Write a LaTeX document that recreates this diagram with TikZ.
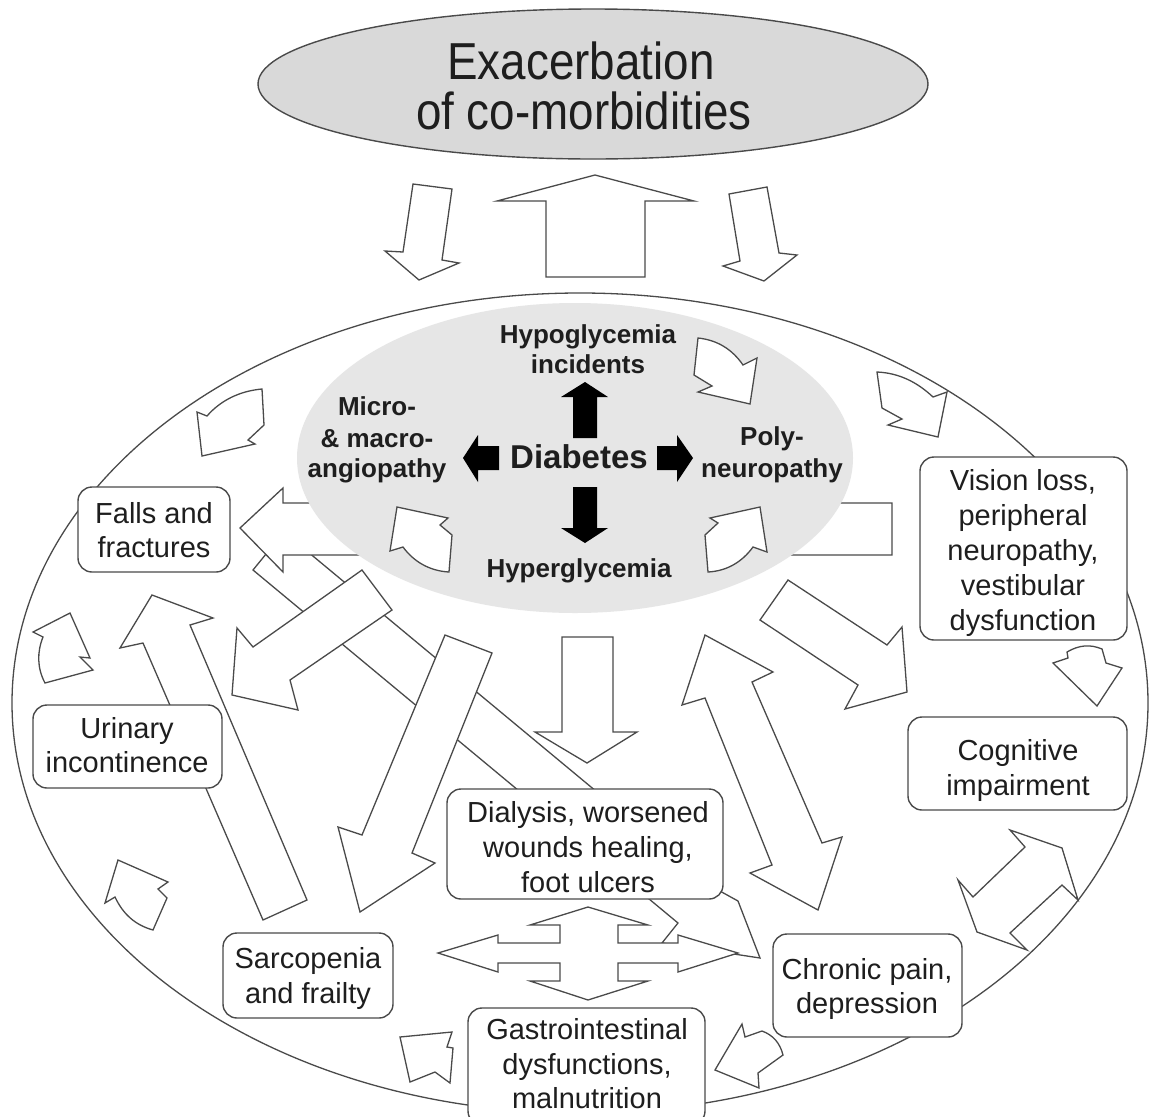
\documentclass[tikz,border=0pt]{standalone}
\usepackage{fontspec}
\setmainfont{Liberation Sans}
\newfontfamily\titlefont[FakeStretch=0.88]{Liberation Sans}
\usetikzlibrary{shapes.geometric}
\definecolor{linec}{HTML}{4A4A4A}
\definecolor{textc}{HTML}{1E1E1E}
\definecolor{titlefill}{HTML}{D9D9D9}
\definecolor{corefill}{HTML}{E6E6E6}
\tikzset{
  blk/.style={draw=linec, line width=1.3pt, fill=white, line join=miter},
  solidarrow/.style={fill=black, draw=none},
  boxnode/.style={draw=linec, line width=1.4pt, rounded corners=14pt, fill=white, inner sep=0pt, outer sep=0pt},
  txt/.style={text=textc, font=\fontsize{29}{34}\selectfont, anchor=base, inner sep=0pt},
  btxt/.style={text=textc, font=\bfseries\fontsize{26}{30}\selectfont, anchor=base, inner sep=0pt},
  ttxt/.style={text=textc, font=\titlefont\fontsize{52}{58}\selectfont, anchor=base, inner sep=0pt},
}
\begin{document}
\begin{tikzpicture}[x=1pt, y=-1pt]
\useasboundingbox (0,0) rectangle (1152,1117);
\clip (0,0) rectangle (1152,1117);
\fill[white] (0,0) rectangle (1152,1117);

% outer ellipse
\node[ellipse, draw=linec, line width=1.3pt, minimum width=1136pt, minimum height=820pt, inner sep=0pt, outer sep=0pt] (outer) at (580,703) {};

% title ellipse
\node[ellipse, draw=linec, line width=1.4pt, fill=titlefill, minimum width=670pt, minimum height=150pt, inner sep=0pt] (title) at (593,84) {};
\node[ttxt] (t1) at (581,79) {Exacerbation};
\node[ttxt] (t2) at (584,129) {of co-morbidities};

% top arrows
\draw[blk] (413,184) -- (452,189) -- (442,260) -- (459,263) -- (419,280) -- (385,251) -- (403,252) -- cycle;
\draw[blk] (595,175) -- (694,201) -- (645,201) -- (645,277) -- (546,277) -- (546,201) -- (497,201) -- cycle;
\draw[blk] (729,194) -- (767,187) -- (779,253) -- (797,255) -- (764,281) -- (723,266) -- (740,261) -- cycle;

% long arrows (bottom layers)
\draw[blk] (253,570) -- (284,532) -- (709,885) -- (738,901) -- (760,958) -- (662,943) -- (678,923) -- cycle;
\draw[blk] (330,503) -- (283,503) -- (283,488) -- (240,528) -- (283,572) -- (283,555) -- (370,555) -- cycle;
\draw[blk] (820,503) -- (892,503) -- (892,555) -- (780,555) -- cycle;
\draw[blk] (362,570) -- (392,610) -- (290,680) -- (298,710) -- (232,695) -- (237,628) -- (253,647) -- cycle;
\draw[blk] (445,635) -- (492,653) -- (412,853) -- (435,863) -- (360,912) -- (338,827) -- (362,835) -- cycle;
\draw[blk] (263,920) -- (307,900) -- (190,625) -- (213,618) -- (152,595) -- (120,648) -- (143,643) -- cycle;
\draw[blk] (562,637) -- (613,637) -- (613,732) -- (637,732) -- (587,763) -- (535,732) -- (562,732) -- cycle;
\draw[blk] (705,635) -- (773,672) -- (752,682) -- (822,843) -- (842,837) -- (818,910) -- (750,873) -- (772,865) -- (705,698) -- (682,705) -- cycle;
\draw[blk] (760,620) -- (788,580) -- (887,645) -- (902,627) -- (907,692) -- (845,709) -- (858,685) -- cycle;
\draw[blk] (1010,830) -- (1062,848) -- (1078,900) -- (1062,885) -- (1010,933) -- (1027,950) -- (977,932) -- (958,880) -- (973,897) -- (1025,847) -- cycle;

% four-way arrow
\draw[blk] (588,907) -- (648,925) -- (618,925) -- (618,943) -- (678,943) -- (678,935) -- (738,953) -- (678,972) -- (678,963) -- (618,963) -- (618,981) -- (648,981) -- (588,1000) -- (530,981) -- (560,981) -- (560,963) -- (498,963) -- (498,972) -- (438,953) -- (498,935) -- (498,943) -- (560,943) -- (560,925) -- (530,925) -- cycle;

% small curved arrows outside core
\draw[blk] (197,412) -- (207,416) .. controls (221,400) and (240,391) .. (262,389) -- (264,425) -- (248,440) -- (255,444) -- (202,456) -- cycle;
\draw[blk] (877,372) .. controls (899,373) and (917,382) .. (933,397) -- (947,392) -- (938,437) -- (888,425) -- (902,419) -- (882,408) -- cycle;
\draw[blk] (1053,663) -- (1068,658) -- (1067,652) .. controls (1079,645) and (1090,644) .. (1102,649) -- (1106,663) -- (1122,668) -- (1097,706) -- cycle;
\draw[blk] (33,632) -- (70,613) -- (90,658) -- (80,657) -- (93,670) -- (45,683) .. controls (37,668) and (37,652) .. (43,637) -- cycle;
\draw[blk] (105,903) -- (118,860) -- (168,882) -- (158,889) -- (167,898) -- (153,930) .. controls (135,925) and (123,914) .. (115,897) -- cycle;
\draw[blk] (400,1037) -- (452,1032) -- (447,1047) -- (453,1048) -- (450,1083) -- (435,1072) -- (410,1082) -- cycle;
\draw[blk] (742,1024) -- (745,1037) -- (762,1031) .. controls (773,1035) and (780,1043) .. (783,1055) -- (758,1073) -- (759,1088) -- (715,1070) -- cycle;

% core ellipse
\node[ellipse, fill=corefill, draw=none, minimum width=556pt, minimum height=310pt, inner sep=0pt] (core) at (575,458) {};

% curved arrows inside core
\draw[blk] (397,507) -- (448,518) -- (440,525) -- (452,535) -- (449,572) .. controls (430,571) and (414,562) .. (403,547) -- (390,551) -- cycle;
\draw[blk] (760,507) -- (710,518) -- (718,523) -- (705,535) -- (708,572) .. controls (727,571) and (742,562) .. (753,547) -- (767,552) -- cycle;
\draw[blk] (698,338) .. controls (717,340) and (732,349) .. (743,365) -- (757,358) -- (750,404) -- (698,392) -- (712,386) -- (694,375) -- cycle;

% black arrows
\fill[solidarrow] (585,382) -- (608,397) -- (597,397) -- (597,438) -- (573,438) -- (573,397) -- (561,397) -- cycle;
\fill[solidarrow] (585,543) -- (608,528) -- (597,528) -- (597,487) -- (573,487) -- (573,528) -- (561,528) -- cycle;
\fill[solidarrow] (463,458) -- (478,435) -- (478,446) -- (499,446) -- (499,470) -- (478,470) -- (478,482) -- cycle;
\fill[solidarrow] (693,458) -- (677,435) -- (677,446) -- (657,446) -- (657,470) -- (677,470) -- (677,482) -- cycle;

% core texts
\node[btxt] (hypo1) at (588,343) {Hypoglycemia};
\node[btxt] (hypo2) at (588,373) {incidents};
\node[btxt, font=\bfseries\fontsize{33}{38}\selectfont] (diab) at (579,468) {Diabetes};
\node[btxt] (hyper) at (579,577) {Hyperglycemia};
\node[btxt] (ang1) at (377,415) {Micro-};
\node[btxt] (ang2) at (377,447) {\& macro-};
\node[btxt] (ang3) at (377,477) {angiopathy};
\node[btxt] (poly1) at (772,445) {Poly-};
\node[btxt] (poly2) at (772,477) {neuropathy};

% boxes
\node[boxnode, minimum width=152pt, minimum height=85pt] (falls) at (154,529.5) {};
\node[txt] (falls1) at (154,523) {Falls and};
\node[txt] (falls2) at (154,557) {fractures};

\node[boxnode, minimum width=189pt, minimum height=83pt] (urin) at (127.5,746.5) {};
\node[txt] (urin1) at (127,738) {Urinary};
\node[txt] (urin2) at (127,772) {incontinence};

\node[boxnode, minimum width=170pt, minimum height=85pt] (sarc) at (308,975.5) {};
\node[txt] (sarc1) at (308,968) {Sarcopenia};
\node[txt] (sarc2) at (308,1003) {and frailty};

\node[boxnode, minimum width=276pt, minimum height=110pt] (dial) at (585,844) {};
\node[txt] (dial1) at (588,822) {Dialysis, worsened};
\node[txt] (dial2) at (588,857) {wounds healing,};
\node[txt] (dial3) at (588,892) {foot ulcers};

\node[boxnode, minimum width=237pt, minimum height=117pt] (gast) at (586.5,1066.5) {};
\node[txt] (gast1) at (587,1039) {Gastrointestinal};
\node[txt] (gast2) at (587,1074) {dysfunctions,};
\node[txt] (gast3) at (587,1108) {malnutrition};

\node[boxnode, minimum width=189pt, minimum height=103pt] (chron) at (867.5,985.5) {};
\node[txt] (chron1) at (867,979) {Chronic pain,};
\node[txt] (chron2) at (867,1013) {depression};

\node[boxnode, minimum width=219pt, minimum height=93pt] (cogn) at (1017.5,763.5) {};
\node[txt] (cogn1) at (1018,760) {Cognitive};
\node[txt] (cogn2) at (1018,795) {impairment};

\node[boxnode, minimum width=207pt, minimum height=183pt] (vis) at (1023.5,548.5) {};
\node[txt] (vis1) at (1023,490) {Vision loss,};
\node[txt] (vis2) at (1023,525) {peripheral};
\node[txt] (vis3) at (1023,560) {neuropathy,};
\node[txt] (vis4) at (1023,595) {vestibular};
\node[txt] (vis5) at (1023,630) {dysfunction};
\end{tikzpicture}
\end{document}
